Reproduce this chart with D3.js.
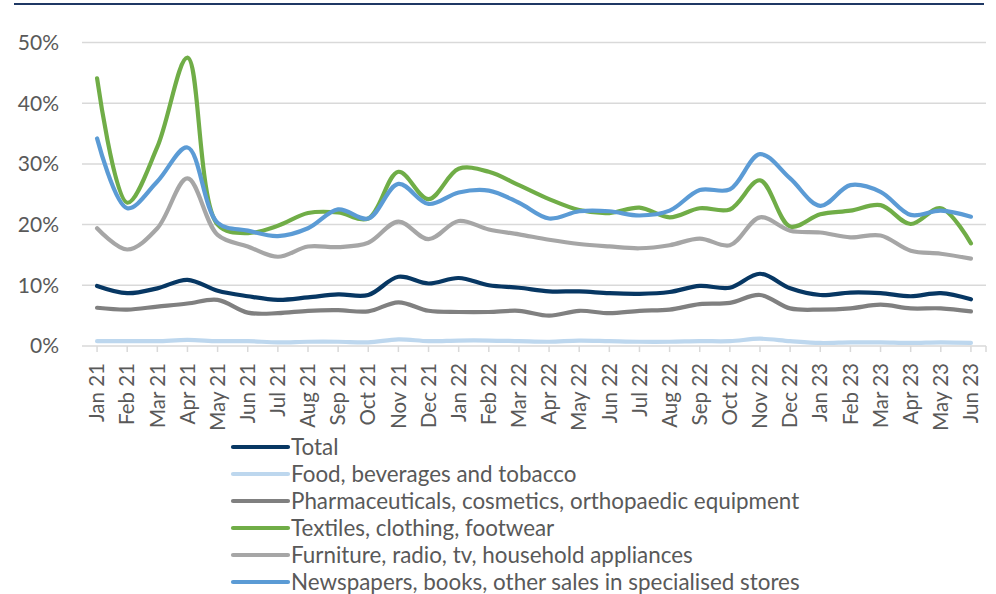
<!DOCTYPE html>
<html><head><meta charset="utf-8">
<script src="https://cdn.jsdelivr.net/npm/d3@7"></script>
<style>html,body{margin:0;padding:0;background:#fff;}svg{display:block;}</style>
</head><body>
<svg id="chart" width="996" height="594"></svg>
<script>
const months = ["Jan 21","Feb 21","Mar 21","Apr 21","May 21","Jun 21","Jul 21","Aug 21","Sep 21","Oct 21","Nov 21","Dec 21",
"Jan 22","Feb 22","Mar 22","Apr 22","May 22","Jun 22","Jul 22","Aug 22","Sep 22","Oct 22","Nov 22","Dec 22",
"Jan 23","Feb 23","Mar 23","Apr 23","May 23","Jun 23"];
const yTicks = [0,10,20,30,40,50];
const seriesNames = ["Total","Food, beverages and tobacco","Pharmaceuticals, cosmetics, orthopaedic equipment","Textiles, clothing, footwear","Furniture, radio, tv, household appliances","Newspapers, books, other sales in specialised stores"];
const total = [9.9,8.7,9.5,10.9,9.1,8.2,7.6,8.0,8.5,8.4,11.4,10.3,11.2,10.0,9.6,9.0,9.0,8.7,8.6,8.9,9.9,9.6,11.9,9.5,8.4,8.8,8.7,8.2,8.7,7.7];
const food = [0.8,0.8,0.8,1.0,0.8,0.8,0.6,0.7,0.7,0.6,1.1,0.8,0.9,0.9,0.8,0.7,0.9,0.8,0.7,0.7,0.8,0.8,1.2,0.8,0.5,0.6,0.6,0.5,0.6,0.5];
const pharma = [6.3,6.0,6.5,7.0,7.6,5.5,5.4,5.8,5.9,5.7,7.2,5.8,5.6,5.6,5.8,5.0,5.8,5.4,5.8,6.0,6.9,7.1,8.4,6.2,6.0,6.2,6.8,6.2,6.2,5.7];
const textiles = [44.1,23.6,32.8,47.5,20.0,18.6,19.8,21.9,22.0,21.0,28.7,24.2,29.2,28.7,26.5,24.2,22.4,21.9,22.8,21.2,22.7,22.5,27.3,19.7,21.7,22.3,23.2,20.1,22.7,16.9];
const furniture = [19.4,15.9,19.4,27.6,18.3,16.4,14.7,16.4,16.3,17.0,20.5,17.6,20.6,19.2,18.4,17.5,16.8,16.4,16.1,16.6,17.7,16.6,21.2,19.0,18.7,17.9,18.2,15.7,15.2,14.4];
const newspapers = [34.2,22.7,27.1,32.7,20.3,19.0,18.1,19.4,22.5,21.0,26.7,23.4,25.3,25.6,23.6,21.0,22.2,22.2,21.5,22.3,25.7,25.8,31.6,27.6,23.1,26.5,25.4,21.6,22.3,21.3];
const colors = ["#073763","#bdd7ee","#808080","#70ad47","#a6a6a6","#5b9bd5"];
const allSeries = [total, food, pharma, textiles, furniture, newspapers];

const svg = d3.select("#chart");
const font = "Lato, 'Open Sans', sans-serif";
const textColor = "#595959";
const pLeft = 82, pRight = 986, pTop = 42.5, pBottom = 346;

// top rule
svg.append("line").attr("x1",14).attr("x2",984).attr("y1",4).attr("y2",4)
  .attr("stroke","#1f3864").attr("stroke-width",2.2);

const x = d3.scalePoint().domain(months).range([pLeft, pRight]).padding(0.5);
const y = d3.scaleLinear().domain([0,50]).range([pBottom, pTop]);

// gridlines
svg.append("g").selectAll("line").data(yTicks.filter(d=>d>0)).join("line")
  .attr("x1",pLeft).attr("x2",pRight).attr("y1",d=>y(d)).attr("y2",d=>y(d))
  .attr("stroke","#d9d9d9").attr("stroke-width",1.5);

// y labels
svg.append("g").selectAll("text").data(yTicks).join("text")
  .attr("x",59).attr("y",d=>y(d)).attr("dy","0.35em").attr("text-anchor","end")
  .attr("font-family",font).attr("font-size",21).attr("fill",textColor)
  .text(d=>d+"%");

// x axis line and ticks
svg.append("line").attr("x1",pLeft).attr("x2",pRight).attr("y1",pBottom).attr("y2",pBottom)
  .attr("stroke","#d9d9d9").attr("stroke-width",1.5);
svg.append("g").selectAll("line").data(months).join("line")
  .attr("x1",d=>x(d)).attr("x2",d=>x(d)).attr("y1",pBottom).attr("y2",pBottom+6)
  .attr("stroke","#d9d9d9").attr("stroke-width",1.5);
svg.append("line").attr("x1",pRight).attr("x2",pRight).attr("y1",pBottom).attr("y2",pBottom+6)
  .attr("stroke","#d9d9d9").attr("stroke-width",1.5);

// x labels rotated
svg.append("g").selectAll("text").data(months).join("text")
  .attr("transform",d=>`translate(${x(d)},363) rotate(-90)`)
  .attr("text-anchor","end").attr("dy","0.35em")
  .attr("font-family",font).attr("font-size",20.5).attr("fill",textColor)
  .text(d=>d);

// lines
const line = d3.line().x((d,i)=>x(months[i])).y(d=>y(d)).curve(d3.curveCatmullRom.alpha(0.5));
svg.append("g").selectAll("path").data(allSeries).join("path")
  .attr("d",d=>line(d)).attr("fill","none")
  .attr("stroke",(d,i)=>colors[i]).attr("stroke-width",4.2)
  .attr("stroke-linecap","round").attr("stroke-linejoin","round");

// legend
const lg = svg.append("g").selectAll("g").data(seriesNames).join("g")
  .attr("transform",(d,i)=>`translate(0,${447+i*27})`);
lg.append("line").attr("x1",233).attr("x2",288).attr("y1",0).attr("y2",0)
  .attr("stroke",(d,i)=>colors[i]).attr("stroke-width",4.2).attr("stroke-linecap","round");
lg.append("text").attr("x",291).attr("y",0).attr("dy","0.35em")
  .attr("font-family",font).attr("font-size",22.4).attr("fill",textColor)
  .text(d=>d);
</script>
</body></html>
